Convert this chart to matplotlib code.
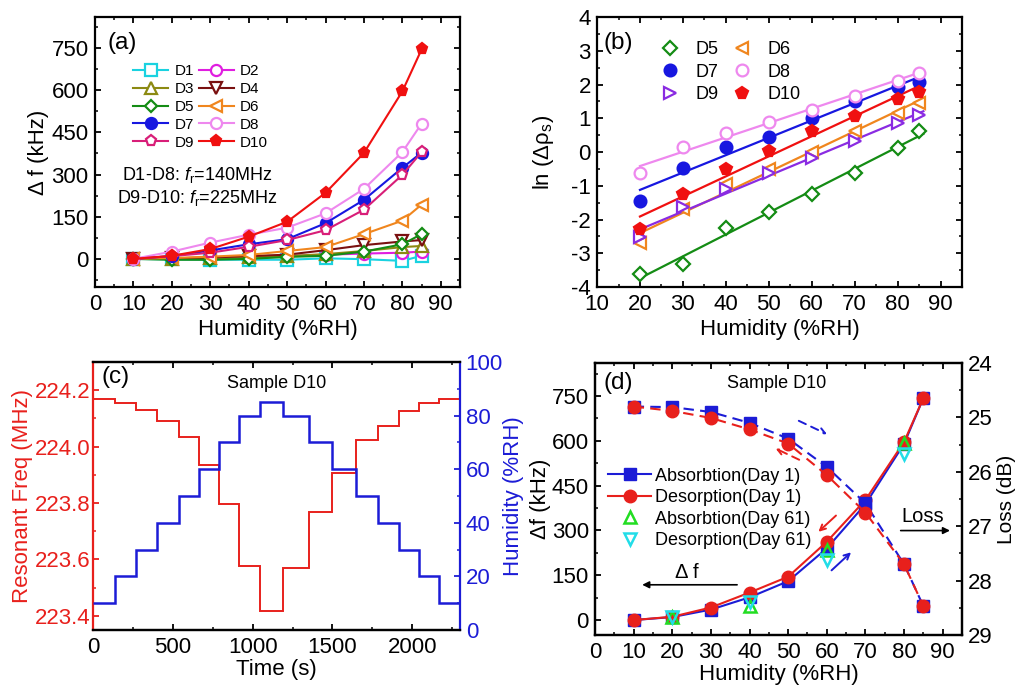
import numpy as np
import matplotlib
matplotlib.use("Agg")
import matplotlib.pyplot as plt
from matplotlib.ticker import MultipleLocator, FormatStrFormatter

# ---- (a) frequency shift vs humidity, every device
RH_A = [10, 20, 30, 40, 50, 60, 70, 80, 85]
D1_A = [0, -2, -3, -3, -3, 2, -1, -7, 11]
D2_A = [0, 2, 5, 8, 10, 15, 19, 22, 26]
D3_A = [0, 0, 2, 5, 10, 17, 28, 42, 46]
D4_A = [0, 2, 5, 10, 15, 31, 49, 62, 67]
D5_A = [0, -3, -3, 0, 7, 11, 26, 52, 88]
D6_A = [0, 3, 8, 14, 28, 42, 88, 136, 193]
D7_A = [0, 10, 30, 52, 70, 127, 210, 324, 378]
D8_A = [0, 26, 58, 86, 111, 162, 249, 380, 481]
D9_A = [0, 10, 22, 43, 67, 102, 175, 299, 380]
D10_A = [0, 11, 35, 79, 132, 235, 377, 596, 745]

# ---- (b) ln(delta rho_s) vs humidity
RH_B = [20, 30, 40, 50, 60, 70, 80, 85]
D5_B = [-3.62, -3.33, -2.24, -1.77, -1.25, -0.61, 0.11, 0.63]
D6_B = [-2.69, -1.70, -0.95, -0.51, 0.01, 0.62, 1.17, 1.45]
D7_B = [-1.45, -0.47, 0.16, 0.44, 1.00, 1.50, 1.92, 2.09]
D8_B = [-0.63, 0.16, 0.57, 0.90, 1.25, 1.67, 2.12, 2.34]
D9_B = [-2.53, -1.64, -1.08, -0.61, -0.19, 0.34, 0.87, 1.10]
D10_B = [-2.27, -1.23, -0.51, 0.04, 0.62, 1.08, 1.56, 1.79]

# ---- (c) D10 time response
T_EDGES = [0, 135, 270, 400, 540, 665, 790, 915, 1045, 1190, 1355, 1500,
           1650, 1785, 1915, 2040, 2165, 2300]
RH_C = [10, 20, 30, 40, 50, 60, 70, 80, 85, 80, 70, 60, 50, 40, 30, 20, 10]
FREQ_C = [224.168, 224.156, 224.130, 224.092, 224.035, 223.935, 223.798,
          223.576, 223.418, 223.570, 223.767, 223.908, 224.024, 224.073,
          224.127, 224.156, 224.168]

# ---- (d) D10 hysteresis / stability
RH_D = [10, 20, 30, 40, 50, 60, 70, 80, 85]
DF_ABS1 = [0, 10, 35, 76, 130, 240, 388, 590, 743]
DF_DES1 = [0, 11, 42, 92, 145, 262, 402, 596, 743]
RH_D61 = [20, 40, 60, 80]
DF_ABS61 = [11, 46, 233, 593]
DF_DES61 = [9, 62, 202, 557]
LOSS_ABS1 = [24.80, 24.81, 24.90, 25.10, 25.39, 25.91, 26.58, 27.70, 28.47]
LOSS_DES1 = [24.80, 24.88, 25.01, 25.22, 25.48, 26.06, 26.75, 27.70, 28.47]

RED = "#e8201c"
BLUE = "#1c1cd6"
TICK_FS = 16
LAB_FS = 16

plt.rcParams.update({
    "font.family": ["Liberation Sans", "DejaVu Sans"],
    "mathtext.fontset": "custom",
    "mathtext.rm": "Liberation Sans",
    "mathtext.it": "Liberation Sans:italic",
    "axes.unicode_minus": False,
    "axes.linewidth": 1.6,
})


def frame(ax, xmaj, ymaj, right=True):
    ax.xaxis.set_major_locator(MultipleLocator(xmaj))
    ax.xaxis.set_minor_locator(MultipleLocator(xmaj / 2))
    ax.yaxis.set_major_locator(MultipleLocator(ymaj))
    ax.yaxis.set_minor_locator(MultipleLocator(ymaj / 2))
    ax.tick_params(which="both", direction="in", top=True, right=right,
                   labelsize=TICK_FS)
    ax.tick_params(axis="x", which="major", pad=5)
    ax.tick_params(axis="y", which="major", pad=4.5)
    ax.tick_params(which="major", length=4.5, width=1.3)
    ax.tick_params(which="minor", length=2.5, width=1.1)


fig = plt.figure(figsize=(10.19, 6.85), dpi=100)
ax_a = fig.add_axes([0.0932, 0.581, 0.3582, 0.394])
ax_b = fig.add_axes([0.5859, 0.581, 0.3582, 0.394])
ax_c = fig.add_axes([0.0913, 0.0803, 0.3602, 0.3912])
ax_d = fig.add_axes([0.5839, 0.073, 0.3602, 0.397])

# ================= (a)
series_a = [("D1", D1_A, "#1ad2e0", "s", False),
            ("D2", D2_A, "#e01ee0", "o", False),
            ("D3", D3_A, "#8c8a12", "^", False),
            ("D4", D4_A, "#7a1010", "v", False),
            ("D5", D5_A, "#148c14", "D", False),
            ("D6", D6_A, "#f0861e", "<", False),
            ("D7", D7_A, "#1717e0", "o", True),
            ("D8", D8_A, "#ee88ee", "o", False),
            ("D9", D9_A, "#d81e78", "p", False),
            ("D10", D10_A, "#f01010", "p", True)]
handles = {}
for name, vals, col, mk, filled in series_a:
    ms = 6.5 if mk == "D" else 8
    h, = ax_a.plot(RH_A, vals, "-", color=col, lw=1.5, marker=mk, ms=ms,
                   mfc=col if filled else "white", mec=col, mew=1.6,
                   label=name)
    handles[name] = h
order = ["D1", "D3", "D5", "D7", "D9", "D2", "D4", "D6", "D8", "D10"]
ax_a.legend([handles[k] for k in order], order, ncol=2, frameon=False,
            fontsize=11, loc="center left", bbox_to_anchor=(0.105, 0.667),
            handlelength=2.3, handletextpad=0.4, columnspacing=0.3,
            labelspacing=0.25, borderpad=0, borderaxespad=0)
ax_a.text(0.279, 0.415, "D1-D8: $f_\\mathrm{r}$=140MHz", transform=ax_a.transAxes,
          ha="center", va="center", fontsize=13)
ax_a.text(0.279, 0.33, "D9-D10: $f_\\mathrm{r}$=225MHz", transform=ax_a.transAxes,
          ha="center", va="center", fontsize=13)
ax_a.set_xlim(0, 95)
ax_a.set_ylim(-100, 860)
frame(ax_a, 10, 150)
ax_a.set_xlabel("Humidity (%RH)", fontsize=LAB_FS, labelpad=3)
ax_a.set_ylabel("Δ f (kHz)", fontsize=LAB_FS, labelpad=2)
ax_a.text(0.033, 0.904, "(a)", transform=ax_a.transAxes, fontsize=17.5,
          ha="left", va="center")

# ================= (b)
series_b = [("D5", D5_B, "#148c14", "D", False),
            ("D6", D6_B, "#f0861e", "<", False),
            ("D7", D7_B, "#1717e0", "o", True),
            ("D8", D8_B, "#ee88ee", "o", False),
            ("D9", D9_B, "#8a2be2", ">", False),
            ("D10", D10_B, "#f01010", "p", True)]
hb = {}
xs = np.array([20, 86])
for name, vals, col, mk, filled in series_b:
    slope, icpt = np.polyfit(RH_B, vals, 1)
    ax_b.plot(xs, icpt + slope * xs, "-", color=col, lw=1.6)
for name, vals, col, mk, filled in series_b:
    ms = 7 if mk == "D" else 8.5
    h, = ax_b.plot(RH_B, vals, ls="none", marker=mk, ms=ms,
                   mfc=col if filled else "white", mec=col, mew=1.6)
    hb[name] = h
order_b = ["D5", "D7", "D9", "D6", "D8", "D10"]
ax_b.legend([hb[k] for k in order_b], order_b, ncol=2, frameon=False,
            fontsize=13, loc="center left", bbox_to_anchor=(0.175, 0.796),
            handlelength=1.0, handletextpad=0.9, columnspacing=0.8,
            labelspacing=0.3, borderpad=0, borderaxespad=0)
ax_b.set_xlim(10, 95)
ax_b.set_ylim(-4, 4)
frame(ax_b, 10, 1)
ax_b.set_xlabel("Humidity (%RH)", fontsize=LAB_FS, labelpad=3)
ax_b.set_ylabel("ln (Δρ$_\\mathrm{s}$)", fontsize=LAB_FS, labelpad=11)
ax_b.text(0.017, 0.904, "(b)", transform=ax_b.transAxes, fontsize=17.5,
          ha="left", va="center")

# ================= (c)
ax_c2 = ax_c.twinx()
ax_c.stairs(FREQ_C, T_EDGES, baseline=None, color=RED, lw=1.4)
ax_c2.stairs(RH_C, T_EDGES, baseline=None, color=BLUE, lw=1.8)
ax_c.set_xlim(0, 2300)
ax_c.set_ylim(223.35, 224.3)
ax_c2.set_ylim(0, 100)
frame(ax_c, 500, 0.2, right=False)
ax_c.yaxis.set_major_formatter(FormatStrFormatter("%.1f"))
ax_c2.yaxis.set_major_locator(MultipleLocator(20))
ax_c2.yaxis.set_minor_locator(MultipleLocator(10))
ax_c2.tick_params(which="both", direction="in", labelsize=TICK_FS,
                  colors=BLUE, pad=4)
ax_c2.tick_params(which="major", length=4.5, width=1.3)
ax_c2.tick_params(which="minor", length=2.5, width=1.1)
ax_c.tick_params(axis="y", which="both", colors=RED, pad=2)
ax_c.spines["left"].set_color(RED)
ax_c2.spines["left"].set_visible(False)
ax_c2.spines["right"].set_color(BLUE)
ax_c.spines["right"].set_visible(False)
ax_c.set_xlabel("Time (s)", fontsize=LAB_FS, labelpad=1)
ax_c.set_ylabel("Resonant Freq (MHz)", fontsize=LAB_FS, color=RED, labelpad=1)
ax_c2.set_ylabel("Humidity (%RH)", fontsize=LAB_FS, color=BLUE, labelpad=0)
ax_c.text(0.5, 0.92, "Sample D10", transform=ax_c.transAxes, fontsize=13,
          ha="center", va="center")
ax_c.text(0.024, 0.945, "(c)", transform=ax_c.transAxes, fontsize=17.5,
          ha="left", va="center")

# ================= (d)
ax_d2 = ax_d.twinx()
h1, = ax_d.plot(RH_D, DF_ABS1, "-", color=BLUE, lw=1.5, marker="s", ms=8,
                mfc=BLUE, mec=BLUE)
h2, = ax_d.plot(RH_D, DF_DES1, "-", color=RED, lw=1.5, marker="o", ms=9,
                mfc=RED, mec=RED)
h3, = ax_d.plot(RH_D61, DF_ABS61, ls="none", marker="^", ms=9, mfc="none",
                mec="#22dd22", mew=1.8)
h4, = ax_d.plot(RH_D61, DF_DES61, ls="none", marker="v", ms=9, mfc="none",
                mec="#22dde8", mew=1.8)
ax_d2.plot(RH_D, LOSS_ABS1, color=BLUE, lw=1.5, ls=(0, (5, 3)), marker="s",
           ms=8, mfc=BLUE, mec=BLUE)
ax_d2.plot(RH_D, LOSS_DES1, color=RED, lw=1.5, ls=(0, (5, 3)), marker="o",
           ms=9, mfc=RED, mec=RED)
ax_d.set_xlim(0, 95)
ax_d.set_ylim(-50, 860)
ax_d2.set_ylim(29, 24)
frame(ax_d, 10, 150, right=False)
ax_d2.yaxis.set_major_locator(MultipleLocator(1))
ax_d2.yaxis.set_minor_locator(MultipleLocator(0.5))
ax_d2.tick_params(which="both", direction="in", labelsize=TICK_FS, pad=4.5)
ax_d2.tick_params(which="major", length=4.5, width=1.3)
ax_d2.tick_params(which="minor", length=2.5, width=1.1)
ax_d.set_xlabel("Humidity (%RH)", fontsize=LAB_FS, labelpad=1)
ax_d.set_ylabel("Δf (kHz)", fontsize=LAB_FS, labelpad=0)
ax_d2.set_ylabel("Loss (dB)", fontsize=15, labelpad=3)

# direction arrows
dash_arrow = dict(arrowstyle="->", lw=1.4, linestyle=(0, (4, 3)))
ax_d2.annotate("", xy=(60.7, 25.33), xytext=(52.1, 25.04),
               arrowprops=dict(dash_arrow, color=BLUE))
ax_d2.annotate("", xy=(46.1, 25.55), xytext=(53.5, 25.80),
               arrowprops=dict(dash_arrow, color=RED))
ax_d.annotate("", xy=(57.3, 289), xytext=(62.9, 356),
              arrowprops=dict(arrowstyle="->", lw=1.4, color=RED))
ax_d.annotate("", xy=(66.8, 233), xytext=(60.7, 160),
              arrowprops=dict(arrowstyle="->", lw=1.4, color=BLUE))
ax_d.annotate("", xy=(11.5, 118), xytext=(37.5, 118),
              arrowprops=dict(arrowstyle="-|>", lw=1.2, color="black",
                              mutation_scale=10))
ax_d.text(23.7, 160, "Δ f", fontsize=14.5, ha="center", va="center")
ax_d2.annotate("", xy=(92.6, 27.08), xytext=(78.4, 27.08),
               arrowprops=dict(arrowstyle="-|>", lw=1.2, color="black",
                               mutation_scale=10))
ax_d2.text(84.8, 26.83, "Loss", fontsize=14.5, ha="center", va="center")

ax_d2.legend([h1, h2, h3, h4],
             ["Absorbtion(Day 1)", "Desorption(Day 1)",
              "Absorbtion(Day 61)", "Desorption(Day 61)"],
             frameon=False, fontsize=13, loc="center left",
             bbox_to_anchor=(0.035, 0.465), handlelength=2.4,
             handletextpad=0.2, labelspacing=0.25, borderpad=0,
             borderaxespad=0)
ax_d.text(0.496, 0.926, "Sample D10", transform=ax_d.transAxes, fontsize=13,
          ha="center", va="center")
ax_d.text(0.022, 0.926, "(d)", transform=ax_d.transAxes, fontsize=17.5,
          ha="left", va="center")

fig.savefig("out.png", dpi=100)
